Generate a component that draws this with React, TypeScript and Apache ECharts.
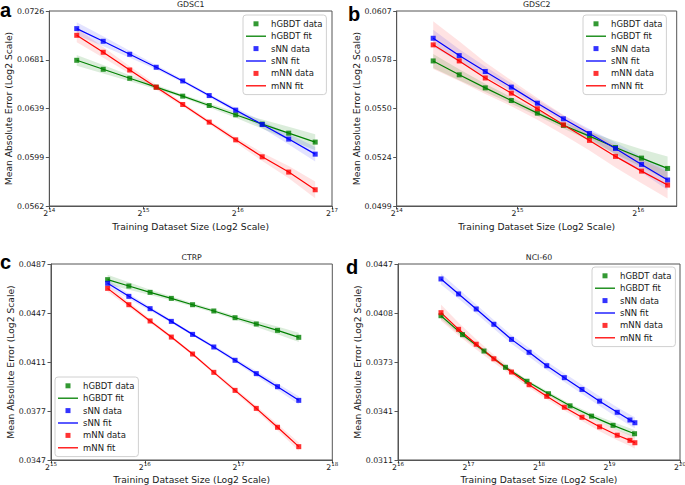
import { useEffect, useRef } from "react";
import * as echarts from "echarts";

const FONT = '"DejaVu Sans", sans-serif';
const LETTER_FONT = '"Liberation Sans", Arial, sans-serif';
const MODEL_NAMES = ["hGBDT", "sNN", "mNN"];
const MODEL_COLORS = ["#008000", "#0000ff", "#ff0000"];
const BAND_COLORS = ["rgba(0,128,0,0.14)", "rgba(0,0,255,0.11)", "rgba(255,0,0,0.11)"];
const X_TITLE = "Training Dataset Size (Log2 Scale)";
const Y_TITLE = "Mean Absolute Error (Log2 Scale)";

// ---- a) GDSC1 ----
const gdsc1Sizes = [20046, 24360, 29602, 35972, 43713, 53120, 64551, 78442, 95323, 115836];
const gdsc1Hgbdt = [0.06805, 0.06725, 0.06646, 0.06569, 0.06492, 0.06413, 0.06335, 0.06258, 0.06184, 0.06112];
const gdsc1Snn = [0.07094, 0.06977, 0.06859, 0.06743, 0.06623, 0.06497, 0.06374, 0.06255, 0.06136, 0.06016];
const gdsc1Mnn = [0.07032, 0.06877, 0.06719, 0.06569, 0.06421, 0.06274, 0.0613, 0.05995, 0.05876, 0.05741];
const gdsc1HgbdtBand = [0.7, 0.55, 0.4, 0.28, 0.22, 0.25, 0.4, 0.6, 0.85, 1.05];
const gdsc1SnnBand = [0.85, 0.65, 0.45, 0.3, 0.22, 0.22, 0.3, 0.45, 0.7, 0.95];
const gdsc1MnnBand = [0.9, 0.7, 0.5, 0.35, 0.25, 0.25, 0.35, 0.55, 0.8, 1.1];
const gdsc1YTicks = ["0.0562", "0.0599", "0.0639", "0.0681", "0.0726"];

// ---- b) GDSC2 ----
const gdsc2Sizes = [20200, 23456, 27237, 31628, 36727, 42647, 49522, 57505, 66775, 77540];
const gdsc2Hgbdt = [0.05773, 0.05693, 0.05619, 0.05548, 0.05478, 0.05411, 0.05353, 0.05292, 0.05236, 0.05182];
const gdsc2Snn = [0.05906, 0.05804, 0.05712, 0.05623, 0.05533, 0.05447, 0.05367, 0.05287, 0.05203, 0.05122];
const gdsc2Mnn = [0.05867, 0.05773, 0.05675, 0.05589, 0.05502, 0.05414, 0.0533, 0.05245, 0.05168, 0.05096];
const gdsc2HgbdtBand = [0.7, 0.55, 0.42, 0.32, 0.28, 0.32, 0.45, 0.65, 0.9, 1.2];
const gdsc2SnnBand = [0.85, 0.65, 0.5, 0.38, 0.32, 0.35, 0.45, 0.6, 0.8, 1.0];
const gdsc2MnnBand = [2.4, 2.0, 1.6, 1.3, 1.1, 1.0, 1.0, 1.1, 1.2, 1.35];
const gdsc2YTicks = ["0.0499", "0.0524", "0.0550", "0.0578", "0.0607"];

// ---- c) CTRP ----
const ctrpSizes = [49800, 58266, 68171, 79760, 93319, 109183, 127744, 149460, 174868, 204595];
const ctrpHgbdt = [0.0474, 0.04688, 0.04637, 0.04589, 0.04539, 0.0449, 0.04438, 0.0439, 0.04342, 0.0429];
const ctrpSnn = [0.0471, 0.04605, 0.04508, 0.0441, 0.04312, 0.04219, 0.04123, 0.04029, 0.03939, 0.03847];
const ctrpMnn = [0.04669, 0.04539, 0.04413, 0.04292, 0.04168, 0.04038, 0.03914, 0.03794, 0.03672, 0.03551];
const ctrpHgbdtBand = [0.85, 0.65, 0.45, 0.35, 0.3, 0.3, 0.35, 0.5, 0.65, 0.8];
const ctrpSnnBand = [0.6, 0.45, 0.35, 0.28, 0.25, 0.28, 0.35, 0.45, 0.55, 0.7];
const ctrpMnnBand = [0.6, 0.45, 0.35, 0.28, 0.25, 0.28, 0.35, 0.45, 0.55, 0.7];
const ctrpYTicks = ["0.0347", "0.0377", "0.0411", "0.0447", "0.0487"];

// ---- d) NCI-60 ----
const nciHgbdtSizes = [100000, 123550, 152650, 188600, 233000, 287900, 355700, 439500, 543000, 670900];
const nciNnSizes = [100000, 118921, 141421, 168179, 200000, 237841, 282843, 336359, 400000, 475683, 565685, 641000, 672900];
const nciHgbdt = [0.04062, 0.03922, 0.03805, 0.03692, 0.03598, 0.03516, 0.03438, 0.03373, 0.03316, 0.03265];
const nciSnn = [0.04348, 0.04229, 0.04113, 0.03998, 0.03888, 0.03796, 0.03703, 0.03622, 0.03544, 0.03468, 0.03397, 0.03349, 0.03332];
const nciMnn = [0.04085, 0.03961, 0.03853, 0.03751, 0.0366, 0.03575, 0.03499, 0.03429, 0.03366, 0.03307, 0.03256, 0.03225, 0.03211];
const nciHgbdtBand = [0.6, 0.45, 0.35, 0.3, 0.3, 0.35, 0.4, 0.5, 0.6, 0.7];
const nciSnnBand = [1.0, 0.9, 0.85, 0.8, 0.8, 0.8, 0.8, 0.8, 0.85, 0.9, 0.95, 1.0, 1.0];
const nciMnnBand = [1.5, 1.2, 0.95, 0.75, 0.6, 0.55, 0.55, 0.6, 0.7, 0.8, 0.95, 1.05, 1.1];
const nciYTicks = ["0.0311", "0.0341", "0.0373", "0.0408", "0.0447"];

type SeriesTriple = [number[], number[], number[]];
interface Panel {
  letter: string;
  title: string;
  letterPos: [number, number];
  titleY: number;
  grid: { left: number; top: number; width: number; height: number };
  xRange: [number, number];
  yTicks: string[];
  models: SeriesTriple[];
  legend: { left: number; top: number };
  yNameGap: number;
  xNameGap: number;
}

const panels: Panel[] = [
  {
    letter: "a", title: "GDSC1", letterPos: [0, 9.8], titleY: 4,
    grid: { left: 49.3, top: 11, width: 282.7, height: 195 },
    xRange: [14, 17], yTicks: gdsc1YTicks,
    models: [[gdsc1Sizes, gdsc1Hgbdt, gdsc1HgbdtBand], [gdsc1Sizes, gdsc1Snn, gdsc1SnnBand], [gdsc1Sizes, gdsc1Mnn, gdsc1MnnBand]],
    legend: { left: 243, top: 15 }, yNameGap: 36, xNameGap: 16,
  },
  {
    letter: "b", title: "GDSC2", letterPos: [348, 13.8], titleY: 4,
    grid: { left: 396.7, top: 11, width: 280, height: 195 },
    xRange: [14, 16.318], yTicks: gdsc2YTicks,
    models: [[gdsc2Sizes, gdsc2Hgbdt, gdsc2HgbdtBand], [gdsc2Sizes, gdsc2Snn, gdsc2SnnBand], [gdsc2Sizes, gdsc2Mnn, gdsc2MnnBand]],
    legend: { left: 583, top: 15 }, yNameGap: 35.4, xNameGap: 15.7,
  },
  {
    letter: "c", title: "CTRP", letterPos: [0, 262.4], titleY: 257.3,
    grid: { left: 51, top: 264, width: 281.3, height: 196 },
    xRange: [15, 18], yTicks: ctrpYTicks,
    models: [[ctrpSizes, ctrpHgbdt, ctrpHgbdtBand], [ctrpSizes, ctrpSnn, ctrpSnnBand], [ctrpSizes, ctrpMnn, ctrpMnnBand]],
    legend: { left: 55, top: 377 }, yNameGap: 36, xNameGap: 14.7,
  },
  {
    letter: "d", title: "NCI-60", letterPos: [346, 267.4], titleY: 257.3,
    grid: { left: 398, top: 264, width: 282, height: 196 },
    xRange: [16, 20], yTicks: nciYTicks,
    models: [[nciHgbdtSizes, nciHgbdt, nciHgbdtBand], [nciNnSizes, nciSnn, nciSnnBand], [nciNnSizes, nciMnn, nciMnnBand]],
    legend: { left: 592, top: 267 }, yNameGap: 35, xNameGap: 14.5,
  },
];

const SQUARE_ICON = "path://M0,0L10,0L10,10L0,10Z";
const LINE_ICON = "path://M0,0L20,0L20,1.3L0,1.3Z";
const AXIS_COLOR = "#555";
const TEXT_COLOR = "#1a1a1a";

function buildOption() {
  const grid: any[] = [];
  const xAxis: any[] = [];
  const yAxis: any[] = [];
  const series: any[] = [];
  const legend: any[] = [];
  const graphic: any[] = [];

  panels.forEach((p, i) => {
    grid.push({
      ...p.grid,
      show: true,
      borderColor: AXIS_COLOR,
      borderWidth: 1,
      backgroundColor: "transparent",
      containLabel: false,
      outerBoundsMode: "none",
    });
    const isIntMax = Number.isInteger(p.xRange[1]);
    xAxis.push({
      type: "value",
      gridIndex: i,
      min: p.xRange[0],
      max: p.xRange[1],
      interval: 1,
      name: X_TITLE,
      nameLocation: "middle",
      nameGap: p.xNameGap,
      nameTextStyle: { fontSize: 9.2, fontFamily: FONT, color: TEXT_COLOR },
      axisLine: { show: true, onZero: false, lineStyle: { color: AXIS_COLOR, width: 1 } },
      axisTick: { show: true, inside: false, length: 3.5, lineStyle: { color: AXIS_COLOR, width: 1 } },
      splitLine: { show: false },
      axisLabel: {
        margin: 2,
        showMinLabel: true,
        showMaxLabel: isIntMax,
        formatter: (v: number) => `{b|2}{s|${Math.round(v)}}`,
        rich: {
          b: { fontSize: 7.8, fontFamily: FONT, color: TEXT_COLOR, lineHeight: 9, padding: [2, 0, 0, 0] },
          s: { fontSize: 5.5, fontFamily: FONT, color: TEXT_COLOR, lineHeight: 6, padding: [0, 0, 5, 0] },
        },
      },
    });
    const nT = p.yTicks.length - 1;
    yAxis.push({
      type: "value",
      gridIndex: i,
      min: 0,
      max: nT,
      interval: 1,
      name: Y_TITLE,
      nameLocation: "middle",
      nameGap: p.yNameGap,
      nameTextStyle: { fontSize: 9.2, fontFamily: FONT, color: TEXT_COLOR },
      axisLine: { show: true, onZero: false, lineStyle: { color: AXIS_COLOR, width: 1 } },
      axisTick: { show: true, inside: false, length: 3.5, lineStyle: { color: AXIS_COLOR, width: 1 } },
      splitLine: { show: false },
      axisLabel: {
        margin: 5,
        fontSize: 7.8,
        fontFamily: FONT,
        color: TEXT_COLOR,
        formatter: (v: number) => p.yTicks[Math.round(v)] ?? "",
      },
    });

    const lo = Math.log(parseFloat(p.yTicks[0]));
    const hi = Math.log(parseFloat(p.yTicks[nT]));
    const ty = (v: number) => ((Math.log(v) - lo) / (hi - lo)) * nT;

    p.models.forEach(([sizes, mae, band], m) => {
      const pts = sizes.map((s, j) => [
        Math.log2(s),
        ty(mae[j] * (1 - band[j] / 100)),
        ty(mae[j] * (1 + band[j] / 100)),
      ]);
      const fill = BAND_COLORS[m];
      series.push({
        type: "custom",
        xAxisIndex: i,
        yAxisIndex: i,
        silent: true,
        z: 1,
        data: pts,
        encode: { x: 0, y: [1, 2] },
        renderItem: (params: any, api: any) => {
          if (params.dataIndex !== 0) return null;
          const upper = pts.map((d) => api.coord([d[0], d[2]]));
          const lower = pts.map((d) => api.coord([d[0], d[1]])).reverse();
          return {
            type: "polygon",
            shape: { points: upper.concat(lower) },
            style: { fill, stroke: "none" },
          };
        },
      });
      const line = sizes.map((s, j) => [Math.log2(s), ty(mae[j])]);
      const color = MODEL_COLORS[m];
      series.push({
        type: "line",
        name: `${MODEL_NAMES[m]} fit`,
        xAxisIndex: i,
        yAxisIndex: i,
        data: line,
        symbol: "none",
        showSymbol: false,
        lineStyle: { color, width: 1.2 },
        itemStyle: { color },
        z: 2,
      });
      series.push({
        type: "scatter",
        name: `${MODEL_NAMES[m]} data`,
        xAxisIndex: i,
        yAxisIndex: i,
        data: line,
        symbol: "rect",
        symbolSize: 5,
        itemStyle: { color },
        z: 3,
      });
    });

    legend.push({
      show: true,
      orient: "vertical",
      left: p.legend.left,
      top: p.legend.top,
      selectedMode: false,
      itemWidth: 20,
      itemHeight: 5,
      itemGap: 2.8,
      padding: [4, 4, 4, 3],
      borderColor: "#d0d0d0",
      borderWidth: 1,
      borderRadius: 3,
      backgroundColor: "rgba(255,255,255,0.8)",
      textStyle: { fontSize: 8.5, lineHeight: 9.6, fontFamily: FONT, color: TEXT_COLOR },
      data: MODEL_NAMES.flatMap((n) => [
        { name: `${n} data`, icon: SQUARE_ICON },
        { name: `${n} fit`, icon: LINE_ICON },
      ]),
    });

    graphic.push({
      type: "text",
      x: p.grid.left + p.grid.width / 2,
      y: p.titleY,
      style: {
        text: p.title,
        fontSize: 7.8,
        fontFamily: FONT,
        fill: TEXT_COLOR,
        align: "center",
        verticalAlign: "middle",
      },
    });
    graphic.push({
      type: "text",
      x: p.letterPos[0],
      y: p.letterPos[1],
      style: {
        text: p.letter,
        fontSize: 20,
        fontWeight: "bold",
        fontFamily: LETTER_FONT,
        fill: "#000",
        align: "left",
        verticalAlign: "middle",
      },
    });
  });

  return {
    animation: false,
    backgroundColor: "#ffffff",
    grid,
    xAxis,
    yAxis,
    series,
    legend,
    graphic,
  };
}

export default function App() {
  const ref = useRef<HTMLDivElement>(null);
  useEffect(() => {
    if (!ref.current) return;
    const chart = echarts.init(ref.current, undefined, { renderer: "svg" });
    chart.setOption(buildOption() as any);
    return () => chart.dispose();
  }, []);
  return (
    <div
      ref={ref}
      style={{ position: "absolute", left: 0, top: 0, width: 685, height: 485 }}
    />
  );
}
